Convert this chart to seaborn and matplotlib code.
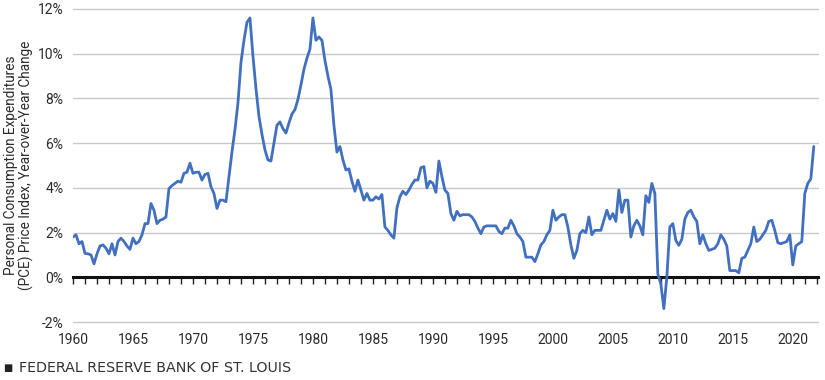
import numpy as np
import pandas as pd
import seaborn as sns
import matplotlib
matplotlib.use("Agg")
from matplotlib import pyplot as plt
from matplotlib.ticker import FuncFormatter

# PCE price index, year-over-year % change (quarterly)
pce_by_year = {
    1960: [1.8, 1.9, 1.5, 1.6],
    1961: [1.07, 1.05, 1.0, 0.6],
    1962: [1.05, 1.4, 1.45, 1.3],
    1963: [1.05, 1.5, 1.0, 1.6],
    1964: [1.75, 1.6, 1.4, 1.25],
    1965: [1.75, 1.5, 1.6, 1.9],
    1966: [2.4, 2.4, 3.3, 3.0],
    1967: [2.4, 2.55, 2.6, 2.7],
    1968: [3.97, 4.1, 4.2, 4.3],
    1969: [4.25, 4.65, 4.7, 5.1],
    1970: [4.65, 4.7, 4.7, 4.35],
    1971: [4.6, 4.65, 4.05, 3.75],
    1972: [3.08, 3.45, 3.45, 3.38],
    1973: [4.5, 5.6, 6.6, 7.8],
    1974: [9.6, 10.6, 11.4, 11.6],
    1975: [9.9, 8.45, 7.2, 6.4],
    1976: [5.7, 5.25, 5.2, 6.0],
    1977: [6.8, 6.95, 6.65, 6.45],
    1978: [6.9, 7.3, 7.5, 7.95],
    1979: [8.6, 9.3, 9.8, 10.2],
    1980: [11.6, 10.6, 10.75, 10.6],
    1981: [9.7, 9.0, 8.4, 6.8],
    1982: [5.6, 5.85, 5.25, 4.8],
    1983: [4.85, 4.3, 3.85, 4.35],
    1984: [3.9, 3.45, 3.75, 3.45],
    1985: [3.45, 3.6, 3.5, 3.7],
    1986: [2.25, 2.1, 1.9, 1.75],
    1987: [3.1, 3.6, 3.85, 3.7],
    1988: [3.9, 4.15, 4.35, 4.35],
    1989: [4.9, 4.95, 4.0, 4.3],
    1990: [4.2, 3.8, 5.2, 4.5],
    1991: [3.9, 3.75, 2.85, 2.55],
    1992: [2.95, 2.75, 2.8, 2.8],
    1993: [2.8, 2.7, 2.5, 2.2],
    1994: [1.95, 2.25, 2.3, 2.3],
    1995: [2.3, 2.3, 2.05, 1.95],
    1996: [2.2, 2.2, 2.55, 2.3],
    1997: [1.95, 1.8, 1.6, 0.9],
    1998: [0.9, 0.9, 0.7, 1.05],
    1999: [1.45, 1.6, 1.9, 2.1],
    2000: [3.0, 2.55, 2.7, 2.8],
    2001: [2.8, 2.25, 1.45, 0.85],
    2002: [1.2, 1.95, 2.1, 2.0],
    2003: [2.7, 1.9, 2.1, 2.1],
    2004: [2.1, 2.55, 3.0, 2.6],
    2005: [2.85, 2.5, 3.9, 2.9],
    2006: [3.45, 3.45, 1.8, 2.3],
    2007: [2.55, 2.3, 1.9, 3.65],
    2008: [3.35, 4.2, 3.75, 0.15],
    2009: [-0.3, -1.4, 0.0, 2.25],
    2010: [2.4, 1.65, 1.43, 1.7],
    2011: [2.6, 2.9, 3.0, 2.7],
    2012: [2.5, 1.5, 1.9, 1.5],
    2013: [1.2, 1.25, 1.3, 1.5],
    2014: [1.9, 1.7, 1.4, 0.3],
    2015: [0.3, 0.3, 0.2, 0.85],
    2016: [0.9, 1.2, 1.5, 2.25],
    2017: [1.6, 1.7, 1.9, 2.1],
    2018: [2.5, 2.55, 2.1, 1.55],
    2019: [1.5, 1.55, 1.6, 1.9],
    2020: [0.55, 1.4, 1.5, 1.6],
    2021: [3.75, 4.2, 4.4, 5.85],
}

year_ticks = list(range(1960, 2021, 5))
y_ticks = [-2, 0, 2, 4, 6, 8, 10, 12]

dates = []
values = []
for yr, qs in pce_by_year.items():
    for q, v in enumerate(qs):
        dates.append(yr + q * 0.25)
        values.append(v)
df = pd.DataFrame({"date": dates, "pce": values})

sns.set_style("white")
plt.rcParams["font.family"] = ["Roboto", "DejaVu Sans"]

fig = plt.figure(figsize=(8.25, 3.8), dpi=100)
ax = fig.add_axes([73 / 825, 1 - 322 / 380, 745 / 825, 313 / 380])

for y in y_ticks:
    if y != 0:
        ax.axhline(y, color="#c8c8c8", linewidth=1.0, zorder=0, clip_on=False)

sns.lineplot(data=df, x="date", y="pce", ax=ax, color="#4070bf",
             linewidth=2.0, zorder=3)

ax.set_xlim(1960, 2022.1)
ax.set_ylim(-2, 12)
ax.set_yticks(y_ticks)
ax.yaxis.set_major_formatter(FuncFormatter(lambda v, p: f"{int(v)}%"))
ax.set_xticks(year_ticks)
ax.set_xticklabels([str(y) for y in year_ticks])
ax.tick_params(axis="both", length=0, labelsize=10, colors="#2b2b2b")
ax.tick_params(axis="x", pad=8)
ax.tick_params(axis="y", pad=7)
for side in ["top", "right", "left", "bottom"]:
    ax.spines[side].set_visible(False)
ax.set_xlabel("")
ax.set_ylabel("Personal Consumption Expenditures\n(PCE) Price Index, Year-over-Year Change",
              fontsize=9.8, color="#2b2b2b", linespacing=1.1)
ax.yaxis.set_label_coords(-0.052, 0.5)

# zero line with yearly tick marks
zero_ax = ax.secondary_xaxis(2 / 14)
zero_ax.set_xticks(list(range(1960, 2023)))
zero_ax.set_xticklabels([])
zero_ax.tick_params(axis="x", direction="out", length=5, width=1, color="#222222")
zero_ax.spines["bottom"].set_linewidth(2.2)
zero_ax.spines["bottom"].set_color("#111111")
zero_ax.spines["bottom"].set_zorder(2)

fig.text(3 / 825, 1 - 368 / 380, "■", fontsize=7, color="#222222",
         va="center", family="DejaVu Sans")
fig.text(19 / 825, 1 - 368 / 380, "FEDERAL RESERVE BANK OF ST. LOUIS",
         fontsize=10.3, color="#333333", va="center", family="DejaVu Sans")

fig.savefig("out.png", dpi=100)
